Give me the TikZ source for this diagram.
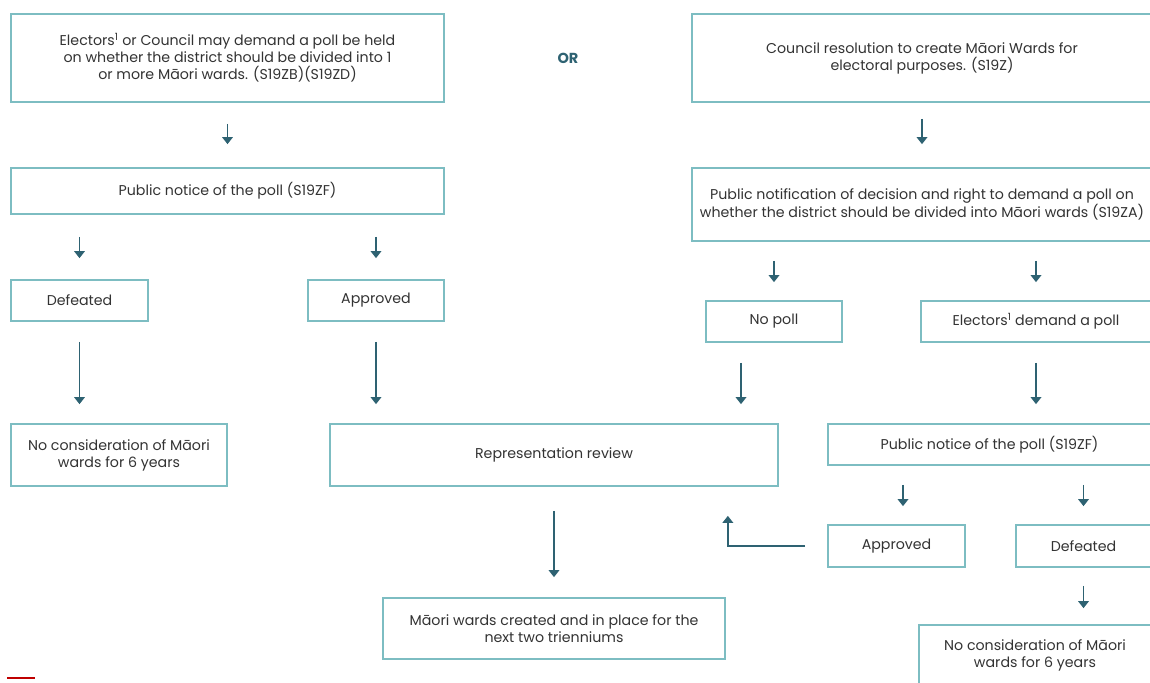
\documentclass[tikz,border=0pt]{standalone}
\usepackage{fontspec}
\setmainfont{Poppins}
\usepackage{xcolor}
\usetikzlibrary{arrows.meta}
\definecolor{boxteal}{HTML}{7DBDC2}
\definecolor{arrowteal}{HTML}{2E6272}
\definecolor{textgray}{HTML}{333333}
\tikzstyle{stepbox} = [draw=boxteal,line width=1.7pt,rectangle,align=center,
  text=textgray,font=\fontsize{14.2}{17}\selectfont,inner sep=0pt]
\tikzstyle{flow} = [draw=arrowteal,line width=1.8pt,
  -{Triangle[width=10.5pt,length=7pt]},shorten <=20pt,shorten >=19pt]

\begin{document}
\begin{tikzpicture}[x=1pt,y=-1pt]
    \clip (0,0) rectangle (1150,682);
    \fill[white] (0,0) rectangle (1150,682);
    % first row
    \node [stepbox,minimum width=433pt,minimum height=88pt] (electpoll) at (227.5,58) {%
      Electors\textsuperscript{1} or Council may demand a poll be held\\
      on whether the district should be divided into 1\\
      or more Māori wards. (S19ZB)(S19ZD)};
    \node [text=arrowteal,font=\fontsize{14.5}{17}\selectfont\bfseries] (or) at (568,58) {OR};
    \node [stepbox,minimum width=460pt,minimum height=88pt] (resolution) at (922,58) {%
      Council resolution to create Māori Wards for\\
      electoral purposes. (S19Z)};
    % notices
    \node [stepbox,minimum width=433pt,minimum height=46pt] (notice) at (227.5,191) {%
      Public notice of the poll (S19ZF)};
    \node [stepbox,minimum width=460pt,minimum height=73pt] (notify) at (922,204.5) {%
      Public notification of decision and right to demand a poll on\\
      whether the district should be divided into Māori wards (S19ZA)};
    % outcomes
    \node [stepbox,minimum width=137pt,minimum height=41pt] (defeated) at (79.5,300.5) {Defeated};
    \node [stepbox,minimum width=136pt,minimum height=41pt] (approved) at (376,300.5) {Approved};
    \node [stepbox,minimum width=136pt,minimum height=41pt] (nopoll) at (774,321.5) {No poll};
    \node [stepbox,minimum width=230pt,minimum height=41pt] (demand) at (1036,321.5) {%
      Electors\textsuperscript{1} demand a poll};
    \node [stepbox,minimum width=216pt,minimum height=62pt] (noconsid) at (119,455) {%
      No consideration of Māori\\ wards for 6 years};
    \node [stepbox,minimum width=448pt,minimum height=62pt] (review) at (554,455) {%
      Representation review};
    \node [stepbox,minimum width=323pt,minimum height=41pt] (notice2) at (989.5,444.5) {%
      Public notice of the poll (S19ZF)};
    \node [stepbox,minimum width=137pt,minimum height=42pt] (approved2) at (896.5,546) {Approved};
    \node [stepbox,minimum width=135pt,minimum height=42pt] (defeated2) at (1083.5,546) {Defeated};
    \node [stepbox,minimum width=342pt,minimum height=61pt] (created) at (554,628.5) {%
      Māori wards created and in place for the\\ next two trienniums};
    \node [stepbox,minimum width=232pt,minimum height=60pt] (noconsid2) at (1035,655) {%
      No consideration of Māori\\ wards for 6 years};
    % arrows
    \draw [flow,shorten <=21pt,shorten >=23pt] (electpoll) -- (notice);
    \draw [flow,shorten <=16pt,shorten >=23pt] (resolution) -- (notify);
    \draw [flow,shorten <=22pt,shorten >=21pt] (notice.south -| defeated) -- (defeated);
    \draw [flow,shorten <=22pt,shorten >=21pt] (notice.south -| approved) -- (approved);
    \draw [flow,shorten <=19pt,shorten >=18pt] (notify.south -| nopoll) -- (nopoll);
    \draw [flow,shorten <=19pt,shorten >=18pt] (notify.south -| demand) -- (demand);
    \draw [flow] (defeated) -- (defeated.south |- noconsid.north);
    \draw [flow] (approved) -- (approved.south |- review.north);
    \draw [flow] ([xshift=-33pt]nopoll.south) -- ([xshift=-33pt]nopoll.south |- review.north);
    \draw [flow] (demand) -- (demand.south |- notice2.north);
    \draw [flow,shorten <=19pt,shorten >=18pt] ([xshift=6.5pt]approved2.north |- notice2.south) -- ([xshift=6.5pt]approved2.north);
    \draw [flow,shorten <=19pt,shorten >=18pt] (defeated2.north |- notice2.south) -- (defeated2);
    \draw [flow,shorten <=24pt,shorten >=20pt] (review) -- (created);
    \draw [flow,shorten <=18pt,shorten >=16pt] (defeated2) -- (defeated2.south |- noconsid2.north);
    \draw [flow,shorten <=22pt,shorten >=29pt] (approved2.west) -| ([xshift=-51pt]review.south east);
    \draw [red!75!black,line width=2.2pt] (7,678) -- (35,678);
\end{tikzpicture}
\end{document}
